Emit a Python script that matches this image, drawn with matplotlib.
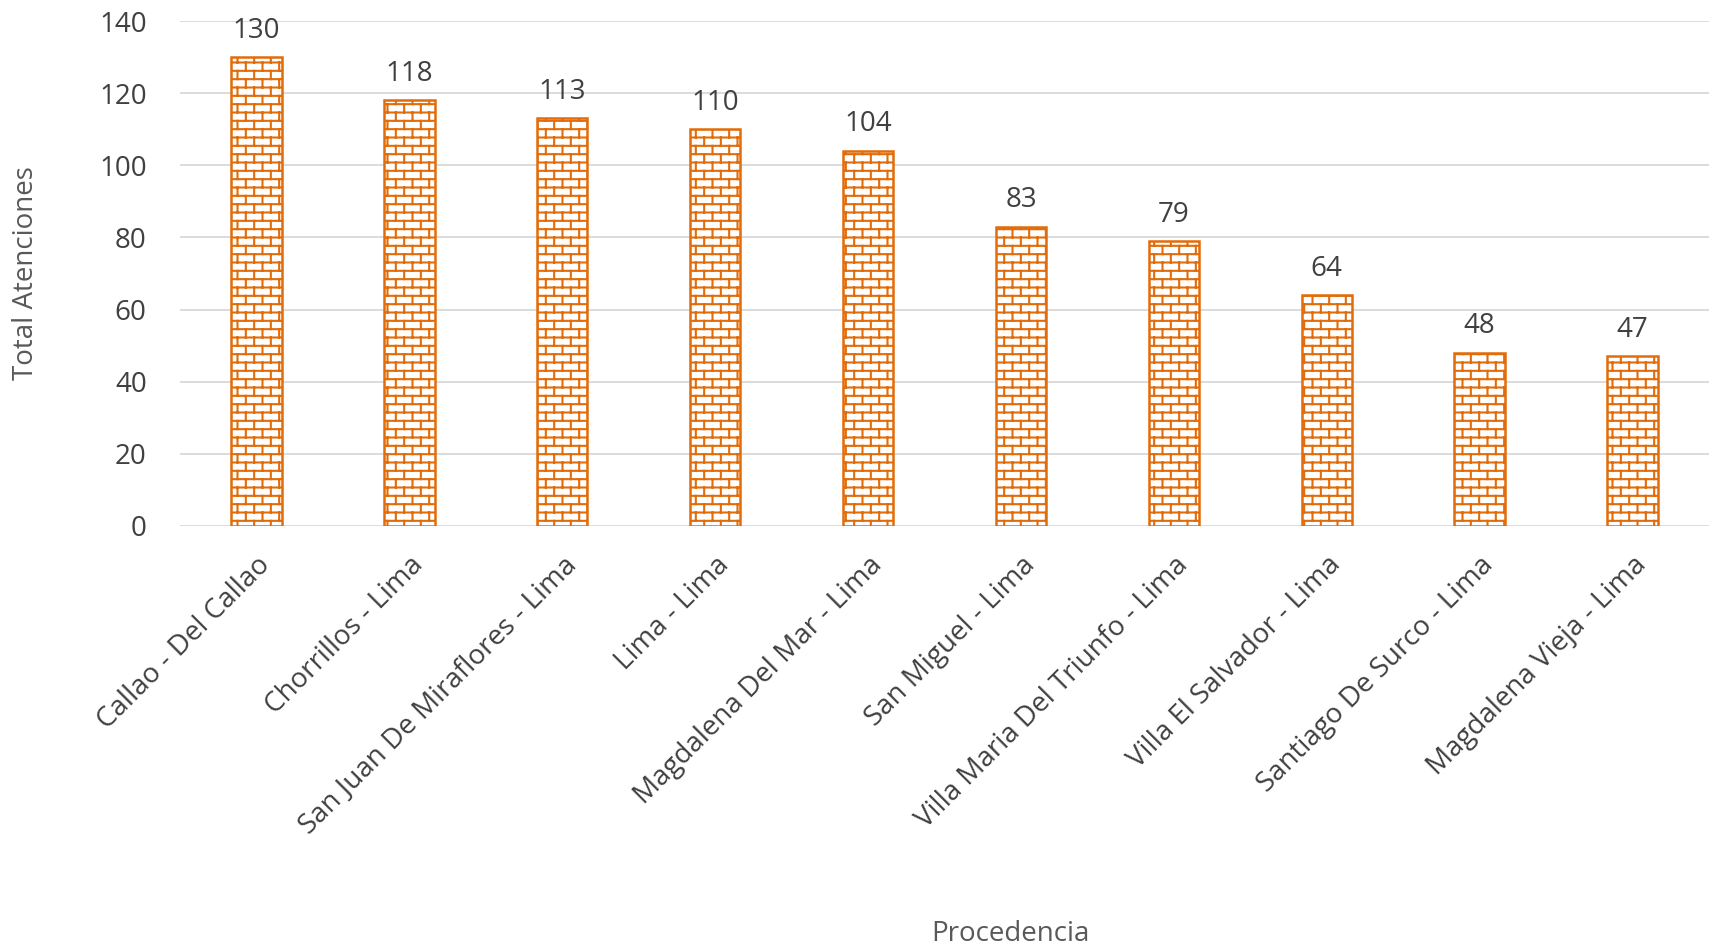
import warnings
import numpy as np
import matplotlib
matplotlib.use('Agg')
import matplotlib.pyplot as plt
from matplotlib import hatch as mhatch
from matplotlib.path import Path

warnings.filterwarnings('ignore')

categorias = ['Callao - Del Callao', 'Chorrillos - Lima', 'San Juan De Miraflores - Lima',
              'Lima - Lima', 'Magdalena Del Mar - Lima', 'San Miguel - Lima',
              'Villa Maria Del Triunfo - Lima', 'Villa El Salvador - Lima',
              'Santiago De Surco - Lima', 'Magdalena Vieja - Lima']
atenciones = [130, 118, 113, 110, 104, 83, 79, 64, 48, 47]
y_ticks = [0, 20, 40, 60, 80, 100, 120, 140]

ORANGE = '#E36C0A'


class BrickHatch(mhatch.HatchPatternBase):
    # brick wall pattern, triggered by 'b' in the hatch string
    rows = 12
    cols = 6

    def __init__(self, hatch, density):
        self.on = 'b' in hatch
        n = self.rows + (self.rows + 1) * self.cols
        self.num_vertices = 2 * n if self.on else 0

    def set_vertices_and_codes(self, vertices, codes):
        k = 0
        for i in range(self.rows):
            y = (i + 0.5) / self.rows
            vertices[k] = (0, y)
            vertices[k + 1] = (1, y)
            k += 2
        # one extra row below so the tile wraps without gaps
        for i in range(-1, self.rows):
            y0 = (i + 0.5) / self.rows
            y1 = (i + 1.5) / self.rows
            for j in range(self.cols):
                x = (j + 0.25 + 0.5 * (i % 2)) / self.cols
                vertices[k] = (x, y0)
                vertices[k + 1] = (x, y1)
                k += 2
        codes[0::2] = Path.MOVETO
        codes[1::2] = Path.LINETO


mhatch._hatch_types.append(BrickHatch)

plt.rcParams['font.family'] = ['Open Sans', 'DejaVu Sans']
plt.rcParams['hatch.linewidth'] = 1.5
plt.rcParams['hatch.color'] = ORANGE

fig = plt.figure(figsize=(17.14, 9.48), dpi=100)
ax = fig.add_axes([180 / 1714, 1 - 526 / 948, 1529 / 1714, 505 / 948])

x = np.arange(len(categorias))
bars = ax.bar(x, atenciones, width=0.33, facecolor='white', edgecolor=ORANGE,
              linewidth=1.8, hatch='b', zorder=3)

for b, v in zip(bars, atenciones):
    ax.annotate(str(v), (b.get_x() + b.get_width() / 2, v), xytext=(0, 9),
                textcoords='offset points', ha='center', va='bottom',
                fontsize=20, color='#404040')

ax.set_xlim(-0.5, len(categorias) - 0.5)
ax.set_ylim(0, 140)
ax.set_yticks(y_ticks)
ax.yaxis.grid(True, color='#D9D9D9', linewidth=1.3, zorder=0)
ax.set_axisbelow(True)
for s in ax.spines.values():
    s.set_visible(False)
ax.tick_params(axis='both', length=0, labelsize=20, colors='#404040')
ax.tick_params(axis='y', pad=24)
ax.set_xticks(x)
ax.set_xticklabels(categorias, rotation=45, ha='right', va='top', rotation_mode='anchor')
ax.tick_params(axis='x', pad=18)

ax.set_ylabel('Total Atenciones', fontsize=20, color='#595959')
ax.yaxis.set_label_coords(-0.0916, 0.5)
ax.set_xlabel('Procedencia', fontsize=20, color='#595959')
ax.xaxis.set_label_coords(0.543, -0.78)

fig.savefig('out.png', dpi=100)
